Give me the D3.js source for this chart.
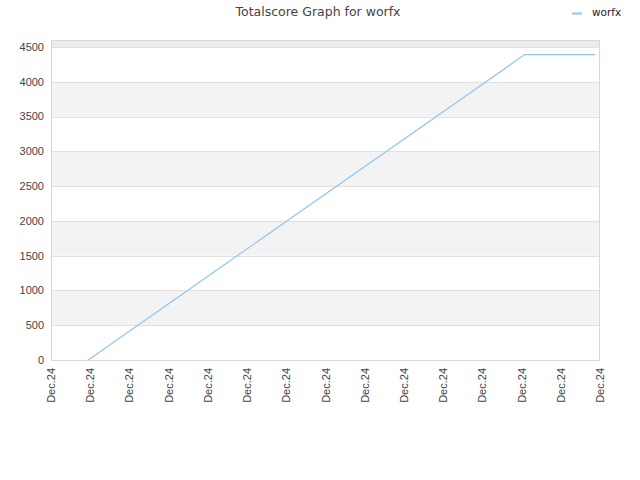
<!DOCTYPE html>
<html><head><meta charset="utf-8">
<script src="https://cdn.jsdelivr.net/npm/d3@7"></script>
<style>body{margin:0;background:#fff}</style>
</head><body>
<script>
const title = "Totalscore Graph for worfx";
const seriesName = "worfx";
const xTickLabels = ["Dec.24","Dec.24","Dec.24","Dec.24","Dec.24","Dec.24","Dec.24","Dec.24","Dec.24","Dec.24","Dec.24","Dec.24","Dec.24","Dec.24","Dec.24"];
const pointIndex = [0.95, 12.08, 13.87];
const pointValue = [0, 4390, 4390];
const yTicks = [0,500,1000,1500,2000,2500,3000,3500,4000,4500];

const W=640,H=480;
const svg=d3.select("body").append("svg").attr("width",W).attr("height",H);
const m={l:51,r:600,t:40,b:360};
const x=d3.scaleLinear().domain([0,xTickLabels.length-1]).range([m.l,m.r]);
const y=d3.scaleLinear().domain([0,4600]).range([m.b,m.t]);

// bands
const bands=[[500,1000],[1500,2000],[2500,3000],[3500,4000],[4500,4600]];
svg.append("g").selectAll("rect").data(bands).join("rect")
  .attr("x",m.l).attr("width",m.r-m.l)
  .attr("y",d=>y(d[1])).attr("height",d=>y(d[0])-y(d[1]))
  .attr("fill",d=>d[1]===4600?"#ececec":"#f3f3f3");
// grid
svg.append("g").selectAll("line").data(yTicks).join("line")
  .attr("x1",m.l).attr("x2",m.r).attr("y1",d=>Math.round(y(d))+0.5).attr("y2",d=>Math.round(y(d))+0.5)
  .attr("stroke","#e0e0e0");
// border
svg.append("rect").attr("x",m.l+0.5).attr("y",m.t+0.5).attr("width",m.r-m.l-1).attr("height",m.b-m.t)
  .attr("fill","none").attr("stroke","#d8d8d8");

// y axis labels
svg.append("g").selectAll("text").data(yTicks).join("text")
  .attr("x",44).attr("y",d=>y(d)).attr("dy","0.35em").attr("text-anchor","end")
  .attr("font-family","Liberation Sans, Arial, sans-serif").attr("font-size",11).attr("fill","#444")
  .text(d=>d);
// x axis labels
svg.append("g").selectAll("text").data(xTickLabels).join("text")
  .attr("transform",(d,i)=>`translate(${x(i)+4},368) rotate(-90)`)
  .attr("text-anchor","end")
  .attr("font-family","Liberation Sans, Arial, sans-serif").attr("font-size",11).attr("fill","#444")
  .text(d=>d);

// line
const pts=pointIndex.map((v,i)=>[v,pointValue[i]]);
svg.append("path").datum(pts)
  .attr("d",d3.line().x(d=>x(d[0])).y(d=>y(d[1])))
  .attr("fill","none").attr("stroke","#90c4f5").attr("stroke-width",1.2);

// title
svg.append("text").attr("x",318).attr("y",16).attr("text-anchor","middle")
  .attr("font-family","DejaVu Sans, sans-serif").attr("font-size",12.5).attr("fill","#444").text(title);
// legend
svg.append("line").attr("x1",572).attr("x2",582).attr("y1",13.5).attr("y2",13.5)
  .attr("stroke","#90c4f5").attr("stroke-width",2);
svg.append("text").attr("x",592).attr("y",16).attr("font-family","DejaVu Sans, sans-serif")
  .attr("font-size",10.5).attr("fill","#222").text(seriesName);
</script>
</body></html>
